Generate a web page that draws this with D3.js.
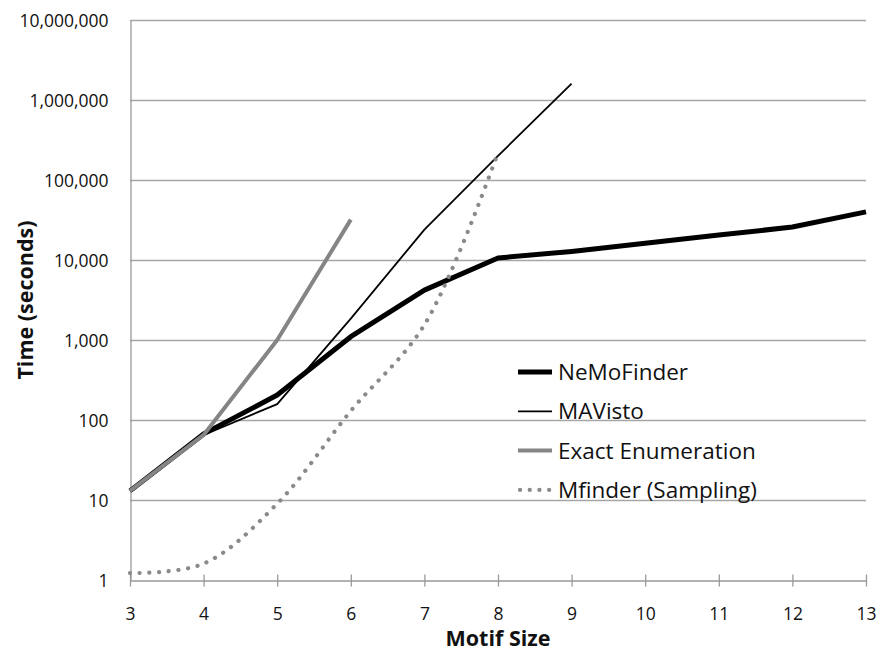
<!DOCTYPE html>
<html>
<head>
<meta charset="utf-8">
<script src="https://cdn.jsdelivr.net/npm/d3@7"></script>
<style>
  body { margin: 0; background: #fff; }
  text { font-family: "Open Sans", sans-serif; fill: #111; }
</style>
</head>
<body>
<div id="chart"><svg></svg></div>
<script>
// chart size & margins
var width = 878;
var height = 651;
var margins = { left: 130, top: 20, right: 12, bottom: 71 };

// data
var motifSizes = [3, 4, 5, 6, 7, 8, 9, 10, 11, 12, 13];
var nemoFinder = [13, 67, 205, 1100, 4200, 10600, 12800, 16200, 20500, 25800, 40000];
var maVisto = [13, 65, 158, 1850, 24000, 200000, 1600000];
var exactEnum = [13, 65, 1000, 32000];
var mFinder = [1.22, 1.6, 9, 130, 1550, 220000];
var seriesNames = ["NeMoFinder", "MAVisto", "Exact Enumeration", "Mfinder (Sampling)"];
var yTicks = [1, 10, 100, 1000, 10000, 100000, 1000000, 10000000];

var styles = [
  { color: "#000", w: 5, dash: null, curve: d3.curveLinear },
  { color: "#000", w: 1.8, dash: null, curve: d3.curveLinear },
  { color: "#858585", w: 4, dash: null, curve: d3.curveLinear },
  { color: "#8a8a8a", w: 4.2, dash: "0.1,9.6", curve: d3.curveCatmullRom }
];
var allSeries = [nemoFinder, maVisto, exactEnum, mFinder];

var xscale = d3.scaleLinear()
    .domain([3, 13])
    .range([margins.left, width - margins.right]);
var yscale = d3.scaleLog()
    .domain([1, 10000000])
    .range([height - margins.bottom, margins.top]);

var svg = d3.select("#chart").select("svg")
    .attr("width", width)
    .attr("height", height);

// horizontal gridlines
svg.append("g")
    .selectAll("line")
    .data(yTicks.slice(1))
    .enter().append("line")
    .attr("x1", margins.left)
    .attr("x2", width - margins.right)
    .attr("y1", function(d){ return Math.round(yscale(d)) + 0.5; })
    .attr("y2", function(d){ return Math.round(yscale(d)) + 0.5; })
    .attr("stroke", "#a6a6a6")
    .attr("stroke-width", 1.3);

// y axis
var yaxis = d3.axisLeft(yscale)
    .tickValues(yTicks)
    .tickFormat(d3.format(","))
    .tickSize(0)
    .tickPadding(22);
var gy = svg.append("g")
    .attr("transform", "translate(" + (margins.left + 0.5) + ",0)")
    .call(yaxis);
gy.select(".domain").attr("stroke", "#999").attr("stroke-width", 1.3);
gy.selectAll("text").style("font-size", "17.5px").attr("dy", "0.36em");

// x axis
var xaxis = d3.axisBottom(xscale)
    .tickValues(motifSizes)
    .tickFormat(d3.format("d"))
    .tickSizeInner(6)
    .tickSizeOuter(0)
    .tickPadding(21);
var gx = svg.append("g")
    .attr("transform", "translate(0," + (height - margins.bottom + 0.5) + ")")
    .call(xaxis);
gx.select(".domain").attr("stroke", "#999").attr("stroke-width", 1.3);
gx.selectAll(".tick line").attr("stroke", "#999").attr("stroke-width", 1.3).attr("y1", -6);
gx.selectAll("text").style("font-size", "17.5px");

// series lines
allSeries.forEach(function(vals, k){
    var pts = vals.map(function(v, i){ return [motifSizes[i], v]; });
    var line = d3.line()
        .x(function(d){ return xscale(d[0]); })
        .y(function(d){ return yscale(d[1]); })
        .curve(styles[k].curve);
    svg.append("path")
        .datum(pts)
        .attr("d", line)
        .attr("fill", "none")
        .attr("stroke", styles[k].color)
        .attr("stroke-width", styles[k].w)
        .attr("stroke-dasharray", styles[k].dash)
        .attr("stroke-linecap", styles[k].dash ? "round" : "butt")
        .attr("stroke-linejoin", "round");
});

// axis titles
svg.append("text")
    .attr("x", xscale(8))
    .attr("y", 646)
    .attr("text-anchor", "middle")
    .style("font-size", "21.5px")
    .style("font-weight", "bold")
    .text("Motif Size");
svg.append("text")
    .attr("transform", "translate(33,300) rotate(-90)")
    .attr("text-anchor", "middle")
    .style("font-size", "21.5px")
    .style("font-weight", "bold")
    .text("Time (seconds)");

// legend
var legend = svg.append("g").attr("transform", "translate(518,372)");
seriesNames.forEach(function(name, k){
    var row = legend.append("g").attr("transform", "translate(0," + (k * 39.3) + ")");
    row.append("line")
        .attr("x1", styles[k].dash ? 2 : 0).attr("x2", 34)
        .attr("stroke", styles[k].color)
        .attr("stroke-width", styles[k].w)
        .attr("stroke-dasharray", styles[k].dash)
        .attr("stroke-linecap", styles[k].dash ? "round" : "butt");
    row.append("text")
        .attr("x", 40)
        .attr("dy", "0.36em")
        .style("font-size", "22.5px")
        .text(name);
});
</script>
</body>
</html>
